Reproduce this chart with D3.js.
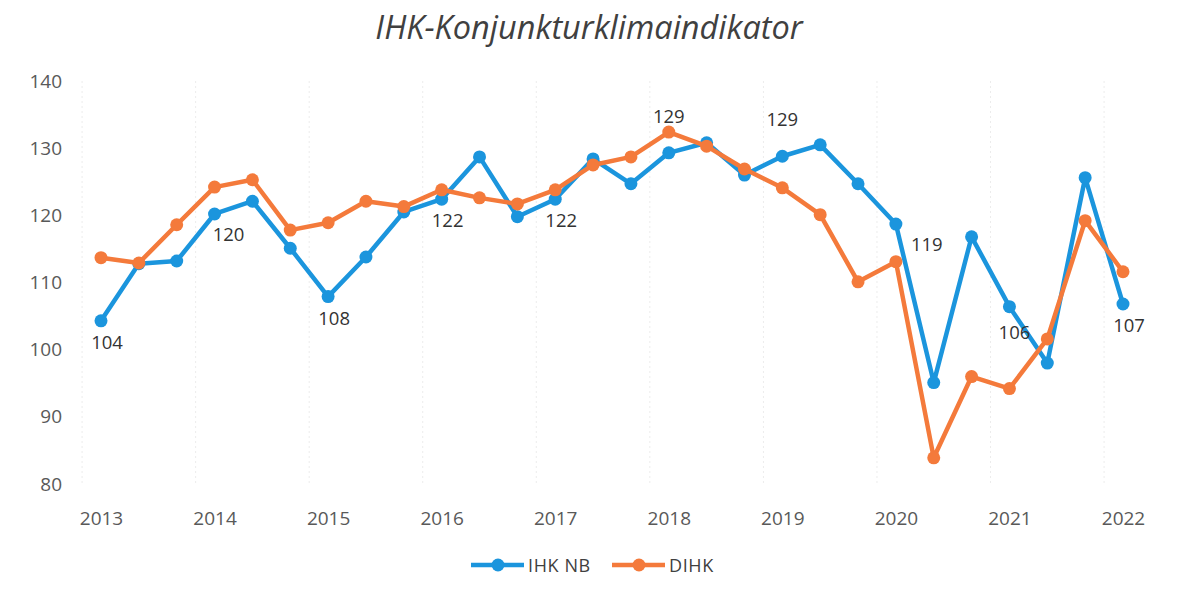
<!DOCTYPE html>
<meta charset="utf-8">
<style>
body { margin: 0; background: #fff; }
svg { display: block; font-family: 'Open Sans', 'Lato', sans-serif; }
.tick text { fill: #595959; font-size: 19px; font-family: 'Open Sans', sans-serif; }
.title { fill: #404040; font-size: 32.5px; font-style: italic; }
.lbl { fill: #333; font-size: 18.5px; }
</style>
<body>
<div id="chart"></div>
<script src="https://d3js.org/d3.v7.min.js"></script>
<script>
const width = 1177, height = 589;

// data (3 readings per year, 2013 .. 2022)
const years = ["2013","2014","2015","2016","2017","2018","2019","2020","2021","2022"];
const ihkNB = [104.3, 112.8, 113.2, 120.2, 122.1, 115.1, 107.9, 113.8, 120.5, 122.4,
	128.7, 119.8, 122.4, 128.4, 124.7, 129.3, 130.8, 126.0, 128.8, 130.5,
	124.7, 118.7, 95.1, 116.8, 106.4, 98.0, 125.6, 106.8];
const dihk = [113.7, 112.9, 118.6, 124.2, 125.3, 117.8, 118.9, 122.1, 121.3, 123.8,
	122.6, 121.7, 123.8, 127.5, 128.7, 132.4, 130.3, 126.9, 124.1, 120.1,
	110.1, 113.1, 83.9, 96.0, 94.2, 101.6, 119.2, 111.6];
const yTicks = [80, 90, 100, 110, 120, 130, 140];
// labelled points of the IHK NB series: index, text, side
const labelIdx = [0, 3, 6, 9, 12, 15, 18, 21, 24, 27];
const labelText = ["104", "120", "108", "122", "122", "129", "129", "119", "106", "107"];
const labelSide = ["below", "belowright", "below", "below", "below", "above", "above", "right", "belowleft", "below"];

const svg = d3.select("#chart").append("svg")
	.attr("width", width)
	.attr("height", height);

const x = d3.scaleLinear().domain([0, ihkNB.length - 1]).range([101, 1123]);
const y = d3.scaleLinear().domain([80, 140]).range([484, 81]);
const step = x(1) - x(0);

svg.append("text")
	.attr("class", "title")
	.attr("x", 589).attr("y", 39)
	.attr("text-anchor", "middle")
	.text("IHK-Konjunkturklimaindikator");

// faint vertical grid at year boundaries
svg.append("g")
	.selectAll("line")
	.data(d3.range(years.length))
	.join("line")
	.attr("x1", d => x(d * 3) - step / 2).attr("x2", d => x(d * 3) - step / 2)
	.attr("y1", y(140)).attr("y2", y(80))
	.attr("stroke", "#ececec")
	.attr("stroke-dasharray", "2,3");

// y axis
const yAxis = svg.append("g")
	.attr("transform", "translate(62,0)")
	.call(d3.axisLeft(y).tickValues(yTicks).tickSize(0).tickPadding(0));
yAxis.select(".domain").remove();

// x axis, year labels on every third point
const xAxis = svg.append("g")
	.attr("transform", "translate(0,505)")
	.call(d3.axisBottom(x).tickValues(years.map((d, i) => i * 3)).tickFormat((d, i) => years[i]).tickSize(0).tickPadding(7));
xAxis.select(".domain").remove();

const series = [
	{ name: "IHK NB", values: ihkNB, color: "#1b95dd" },
	{ name: "DIHK", values: dihk, color: "#f47a3b" }
];

const line = d3.line().x((d, i) => x(i)).y(d => y(d));

series.forEach(function(s) {
	svg.append("path")
		.datum(s.values)
		.attr("d", line)
		.attr("fill", "none")
		.attr("stroke", s.color)
		.attr("stroke-width", 4.5)
		.attr("stroke-linejoin", "round");
	svg.append("g")
		.selectAll("circle")
		.data(s.values)
		.join("circle")
		.attr("cx", (d, i) => x(i))
		.attr("cy", d => y(d))
		.attr("r", 6.5)
		.attr("fill", s.color);
});

// data labels
const off = {
	below: [6, 28, "middle"],
	belowright: [14, 27, "middle"],
	belowleft: [5, 32, "middle"],
	above: [0, -30, "middle"],
	right: [15, 27, "start"]
};
svg.append("g")
	.selectAll("text")
	.data(labelIdx)
	.join("text")
	.attr("class", "lbl")
	.attr("x", (d, i) => x(d) + off[labelSide[i]][0])
	.attr("y", (d, i) => y(ihkNB[d]) + off[labelSide[i]][1])
	.attr("text-anchor", (d, i) => off[labelSide[i]][2])
	.text((d, i) => labelText[i]);

// legend
const legend = svg.append("g").attr("transform", "translate(0,565)");
const legX = [471, 612];
series.forEach(function(s, i) {
	const g = legend.append("g").attr("transform", "translate(" + legX[i] + ",0)");
	g.append("line").attr("x1", 0).attr("x2", 53).attr("stroke", s.color).attr("stroke-width", 4.5);
	g.append("circle").attr("cx", 27).attr("r", 6.5).attr("fill", s.color);
	g.append("text").attr("x", 57).attr("y", 6.5).attr("fill", "#404040")
		.style("font-size", "18px").style("letter-spacing", "0.6px").text(s.name);
});
</script>
</body>
